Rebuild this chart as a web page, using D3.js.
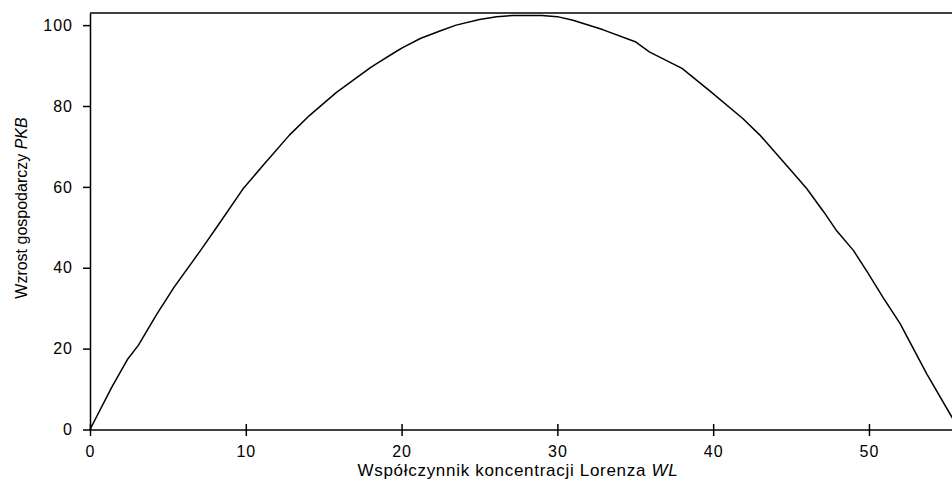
<!DOCTYPE html>
<html>
<head>
<meta charset="utf-8">
<script src="https://cdn.jsdelivr.net/npm/d3@7"></script>
<style>
  body { margin: 0; background: #fff; }
  svg { display: block; font-family: "Liberation Sans", Arial, sans-serif; }
</style>
</head>
<body>
<svg id="chart" width="952" height="486"></svg>
<script>
// Lorenz concentration coefficient (x) and GDP growth (y)
const lorenzX = [0, 1.4, 2.4, 3.1, 4.3, 5.4, 7.1, 8.2, 9.8, 11.1, 12.8, 14.1, 15.8, 18.0, 18.4, 19.7, 20.1, 21.2, 22.5, 23.5, 25.0, 26.1, 27.2, 29.0, 30.0, 31.0, 32.9, 35.0, 35.9, 38.0, 39.8, 41.9, 43.0, 44.9, 46.0, 47.1, 47.9, 49.0, 49.9, 50.9, 52.0, 53.7, 55.3, 55.8];
const gdpY = [0, 10.5, 17.3, 20.8, 28.6, 35.2, 44.3, 50.4, 59.4, 65.3, 72.8, 77.7, 83.3, 89.5, 90.5, 93.6, 94.5, 96.7, 98.6, 100, 101.4, 102.1, 102.4, 102.4, 102.1, 101.2, 98.9, 95.9, 93.4, 89.3, 83.7, 76.9, 72.8, 64.5, 59.6, 53.8, 49.3, 44.3, 38.9, 32.7, 26.2, 13.8, 3.2, 0];

const xTicks = [0, 10, 20, 30, 40, 50];
const yTicks = [0, 20, 40, 60, 80, 100];

const AXIS_COLOR = "#000000";

const svg = d3.select("#chart");
const points = lorenzX.map((x, i) => ({ x, y: gdpY[i] }));

// Scales (the plot runs off the right edge of the picture)
const x = d3.scaleLinear().domain([0, 55.33]).range([90, 952]);
const y = d3.scaleLinear().domain([0, 103]).range([429.5, 13]);

// Top frame line
svg.append("line")
  .attr("x1", 90).attr("x2", 952)
  .attr("y1", y(103)).attr("y2", y(103))
  .attr("stroke", AXIS_COLOR)
  .attr("stroke-width", 1.5);

// Y axis
const axisY = d3.axisLeft(y).tickValues(yTicks).tickSize(7).tickPadding(10).tickSizeOuter(0);
svg.append("g")
  .attr("transform", "translate(90,0)")
  .call(axisY)
  .call((g) => g.select(".domain").attr("stroke-width", 1.5))
  .call((g) => g.selectAll(".tick line").attr("stroke-width", 1.5))
  .call((g) => g.selectAll(".tick text")
    .attr("font-size", 16)
    .attr("letter-spacing", 1)
    .attr("fill", AXIS_COLOR));

// X axis, ticks cross the line
const axisX = d3.axisBottom(x).tickValues(xTicks).tickSize(6.5).tickPadding(10).tickSizeOuter(0);
svg.append("g")
  .attr("transform", `translate(0,${y(0)})`)
  .call(axisX)
  .call((g) => g.select(".domain").attr("stroke-width", 1.5))
  .call((g) => g.selectAll(".tick line").attr("y1", -5.5).attr("stroke-width", 1.5))
  .call((g) => g.selectAll(".tick text")
    .attr("font-size", 16)
    .attr("letter-spacing", 1)
    .attr("fill", AXIS_COLOR));

// Curve
const line = d3.line().x((d) => x(d.x)).y((d) => y(d.y));
svg.append("path")
  .datum(points)
  .attr("d", line)
  .attr("fill", "none")
  .attr("stroke", "#000")
  .attr("stroke-width", 1.5)
  .attr("stroke-linejoin", "round");

// Axis titles
const xTitle = svg.append("text")
  .attr("x", 518)
  .attr("y", 476)
  .attr("text-anchor", "middle")
  .attr("font-size", 17)
  .attr("letter-spacing", 0.7);
xTitle.append("tspan").text("Współczynnik koncentracji Lorenza ");
xTitle.append("tspan").attr("font-style", "italic").text("WL");

const yTitle = svg.append("text")
  .attr("transform", "translate(27,208) rotate(-90)")
  .attr("text-anchor", "middle")
  .attr("font-size", 16);
yTitle.append("tspan").text("Wzrost gospodarczy ");
yTitle.append("tspan").attr("font-style", "italic").text("PKB");
</script>
</body>
</html>
